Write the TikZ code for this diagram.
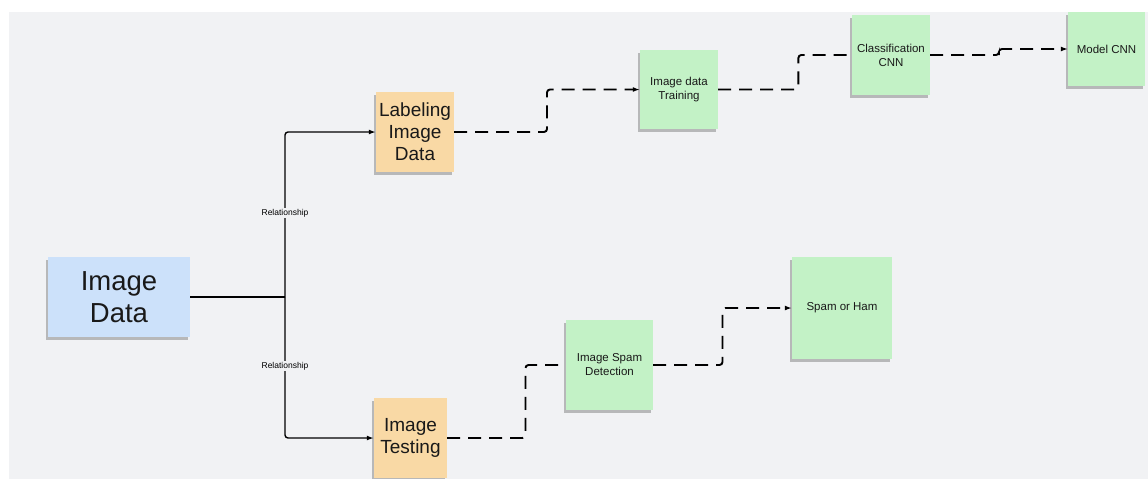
\documentclass[tikz,border=0pt]{standalone}
\usepackage{fontspec}
\setmainfont{Liberation Sans}
\usetikzlibrary{arrows.meta,positioning,calc,shadows}

\definecolor{bgGray}{HTML}{F1F2F4}
\definecolor{noteBlue}{HTML}{CCE1FA}
\definecolor{noteOrange}{HTML}{F9D9A5}
\definecolor{noteGreen}{HTML}{C3F2C6}

\tikzset{
  note/.style={rectangle, inner sep=1pt, align=center, text=black!90,
    drop shadow={shadow xshift=-2pt, shadow yshift=-2.5pt, fill=black!70, opacity=.35}},
  bignote/.style={note, fill=noteBlue, font=\fontsize{27.5}{32}\selectfont},
  midnote/.style={note, fill=noteOrange, font=\fontsize{19}{22}\selectfont},
  smallnote/.style={note, fill=noteGreen, font=\fontsize{11.5}{14}\selectfont},
  link/.style={line width=1.4pt, rounded corners=3pt},
  dashlink/.style={line width=1.9pt, rounded corners=3pt, dash pattern=on 13pt off 8pt},
  tip/.style={-{Latex[length=7pt,width=5pt]}},
  zig/.style={to path={-| ($(\tikztostart)!#1!(\tikztotarget)$) |- (\tikztotarget)}},
  zig/.default=0.5,
  rel/.style={fill=bgGray, inner sep=1pt, font=\fontsize{8.5}{9}\selectfont}
}

\begin{document}
\begin{tikzpicture}[x=1pt, y=-1pt]
\useasboundingbox (0,0) rectangle (1148,479);
\fill[white] (0,0) rectangle (1148,479);
\fill[bgGray] (9,12) rectangle (1148,479);

% sticky notes
\node[bignote, minimum width=142pt, minimum height=80pt] (imgdata) at (119,297) {Image\\Data};
\node[midnote, minimum width=78pt, minimum height=80pt] (labeling) at (415,132) {Labeling\\Image\\Data};
\node[midnote, minimum width=73pt, minimum height=80pt] (testing) at (410.5,438) {Image\\Testing};
\node[smallnote, minimum width=78pt, minimum height=79pt] (training) at (679,89.5) {Image data\\Training};
\node[smallnote, minimum width=78pt, minimum height=80pt] (classif) at (891,55) {Classification\\CNN};
\node[smallnote, minimum width=77pt, minimum height=74pt] (model) at (1106.5,49) {Model CNN};
\node[smallnote, minimum width=87pt, minimum height=90pt] (spamdet) at (609.5,365) {Image Spam\\Detection};
\node[smallnote, minimum width=100pt, minimum height=102pt] (spamham) at (842,308) {Spam or Ham};

% split from the data
\coordinate (split) at (285,297);
\draw[link] (imgdata.east) -- (split);
\draw[link, tip] (split) |- (labeling.west);
\draw[link, tip] (split) |- (testing.west);
\node[rel] (relup) at (285,213) {Relationship};
\node[rel] (reldown) at (285,366) {Relationship};

% training branch
\draw[dashlink, tip] (labeling.east) to[zig] (training.west);
\draw[dashlink] (training.east) to[zig=0.6] (classif.west);
\draw[dashlink, tip] (classif.east) to[zig] (model.west);

% testing branch
\draw[dashlink] (testing.east) to[zig=0.66] (spamdet.west);
\draw[dashlink, tip] (spamdet.east) to[zig] (spamham.west);
\end{tikzpicture}
\end{document}
